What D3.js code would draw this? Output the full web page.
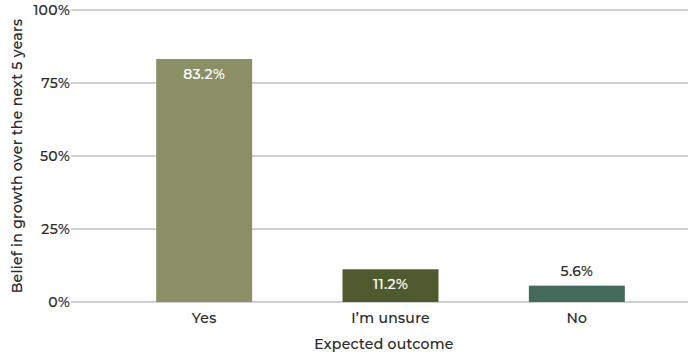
<!DOCTYPE html>
<html>
<head>
<meta charset="utf-8">
<script src="https://cdn.jsdelivr.net/npm/d3@7"></script>
<style>
  html, body { margin: 0; padding: 0; background: #fff; }
  svg { display: block; font-family: "Montserrat", "Inter", "Lato", sans-serif; letter-spacing: 0.3px; }
</style>
</head>
<body>
<svg id="chart" width="694" height="354"></svg>
<script>
// Survey answers and their shares (percent)
const categories = ["Yes", "I\u2019m unsure", "No"];
const values = [83.2, 11.2, 5.6];
const barColors = ["#8a8f65", "#4f5a2f", "#446a5b"];
const tickValues = [0, 25, 50, 75, 100];

const svg = d3.select("#chart");
const margin = { top: 10, right: 6, bottom: 52, left: 71 };
const fontSize = 14;
const fontWeight = 500;
const textColor = "#2b2b2b";

// Thin outline in the fill colour gives the labels a medium weight
function styleText(sel, fill) {
  sel.attr("font-size", fontSize)
    .attr("font-weight", fontWeight)
    .attr("fill", fill)
    .attr("stroke", fill)
    .attr("stroke-width", 0.15);
}

const y = d3.scaleLinear()
  .domain([0, 100])
  .range([302, 10]);

const x = d3.scaleBand()
  .domain(categories)
  .range([111, 670])
  .paddingInner(0.485)
  .paddingOuter(0.2425);

// Horizontal gridlines
svg.append("g")
  .selectAll("line")
  .data(tickValues)
  .join("line")
  .attr("x1", margin.left)
  .attr("x2", 688)
  .attr("y1", d => y(d))
  .attr("y2", d => y(d))
  .attr("stroke", "#d0d0d0")
  .attr("stroke-width", 2);

// Y axis tick labels
const yAxis = d3.axisLeft(y)
  .tickValues(tickValues)
  .tickFormat(d => d + "%")
  .tickSize(0)
  .tickPadding(1);
const yg = svg.append("g")
  .attr("transform", `translate(${margin.left},0)`)
  .call(yAxis)
  .attr("font-family", null)
  .attr("font-size", null);
yg.select(".domain").remove();
yg.selectAll("text").call(styleText, textColor);

// Bars
svg.append("g")
  .selectAll("rect")
  .data(categories)
  .join("rect")
  .attr("x", d => x(d))
  .attr("width", x.bandwidth())
  .attr("y", (d, i) => y(values[i]))
  .attr("height", (d, i) => y(0) - y(values[i]))
  .attr("fill", (d, i) => barColors[i]);

// Value labels: inside for taller bars, above for the short one
svg.append("g")
  .selectAll("text")
  .data(categories)
  .join("text")
  .attr("x", d => x(d) + x.bandwidth() / 2)
  .attr("y", (d, i) => values[i] > 8 ? y(values[i]) + 20 : y(values[i]) - 10)
  .attr("text-anchor", "middle")
  .each(function (d, i) {
    d3.select(this).call(styleText, values[i] > 8 ? "#ffffff" : textColor);
  })
  .text((d, i) => values[i].toFixed(1) + "%");

// X axis category labels
const xAxis = d3.axisBottom(x).tickSize(0).tickPadding(11);
const xg = svg.append("g")
  .attr("transform", `translate(0,${y(0)})`)
  .call(xAxis)
  .attr("font-family", null)
  .attr("font-size", null);
xg.select(".domain").remove();
xg.selectAll("text").call(styleText, textColor);

// Axis titles
svg.append("text")
  .attr("x", 384)
  .attr("y", 349)
  .attr("text-anchor", "middle")
  .call(styleText, textColor)
  .text("Expected outcome");

svg.append("text")
  .attr("transform", `translate(22,${y(50)}) rotate(-90)`)
  .attr("text-anchor", "middle")
  .call(styleText, textColor)
  .text("Belief in growth over the next 5 years");
</script>
</body>
</html>
